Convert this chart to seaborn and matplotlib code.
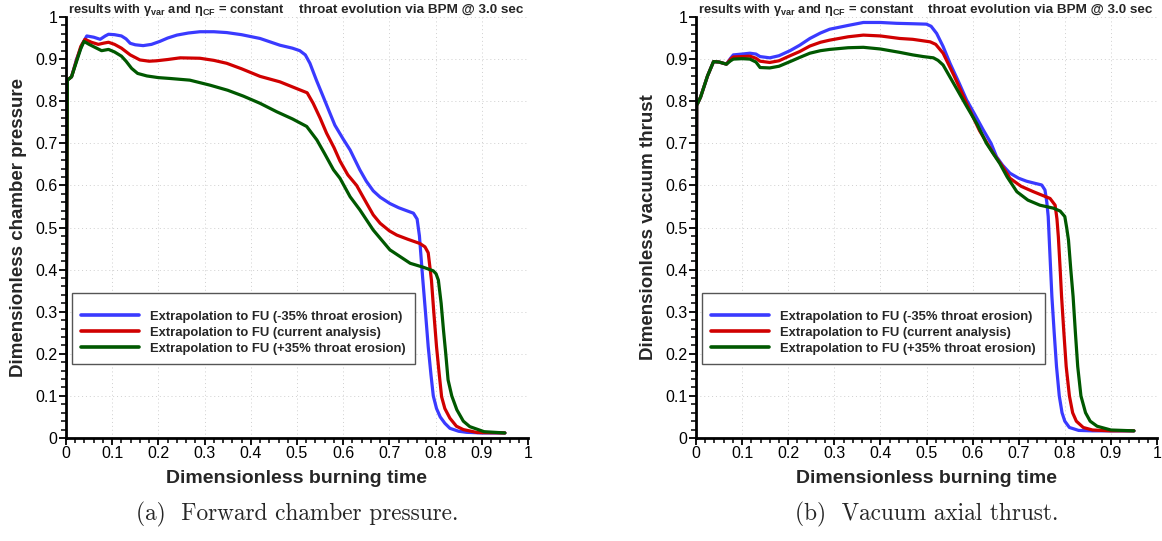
import numpy as np
import pandas as pd
import matplotlib
matplotlib.use("Agg")
import matplotlib.pyplot as plt
from matplotlib.ticker import MultipleLocator, FuncFormatter
import seaborn as sns

# ---------------- data ----------------
series_labels = ["Extrapolation to FU (-35% throat erosion)",
                 "Extrapolation to FU (current analysis)",
                 "Extrapolation to FU (+35% throat erosion)"]
series_colors = ["#3a3aff", "#d00000", "#005800"]

# Panel (a): forward chamber pressure
p_blue_t = [0, 0.003, 0.012, 0.023, 0.035, 0.045, 0.06, 0.074, 0.085, 0.092, 0.105, 0.12, 0.13, 0.139,
            0.15, 0.167, 0.185, 0.203, 0.22, 0.24, 0.265, 0.29, 0.32, 0.348, 0.38, 0.42, 0.463, 0.49,
            0.506, 0.518, 0.528, 0.542, 0.557, 0.57, 0.582, 0.6, 0.615, 0.636, 0.65, 0.665, 0.68, 0.701,
            0.72, 0.737, 0.752, 0.76, 0.765, 0.772, 0.778, 0.784, 0.79, 0.795, 0.802, 0.81, 0.82, 0.831,
            0.85, 0.867, 0.9, 0.95]
p_blue_v = [0.15, 0.85, 0.858, 0.9, 0.935, 0.955, 0.952, 0.947, 0.955, 0.959, 0.958, 0.955, 0.948, 0.9375,
            0.934, 0.932, 0.935, 0.942, 0.95, 0.957, 0.962, 0.965, 0.965, 0.963, 0.958, 0.949, 0.933, 0.926,
            0.92, 0.91, 0.89, 0.85, 0.81, 0.775, 0.743, 0.71, 0.684, 0.637, 0.61, 0.587, 0.572, 0.557,
            0.547, 0.54, 0.534, 0.52, 0.48, 0.38, 0.3, 0.217, 0.15, 0.1, 0.07, 0.05, 0.035, 0.023,
            0.016, 0.0135, 0.012, 0.012]

p_red_t = [0, 0.003, 0.012, 0.023, 0.032, 0.041, 0.055, 0.07, 0.082, 0.092, 0.105, 0.12, 0.139, 0.16,
           0.18, 0.196, 0.22, 0.247, 0.29, 0.32, 0.348, 0.38, 0.42, 0.463, 0.506, 0.522, 0.535, 0.55,
           0.564, 0.58, 0.593, 0.61, 0.629, 0.651, 0.665, 0.68, 0.7, 0.716, 0.74, 0.766, 0.777, 0.784,
           0.791, 0.796, 0.802, 0.808, 0.813, 0.82, 0.831, 0.845, 0.86, 0.89, 0.95]
p_red_v = [0.15, 0.85, 0.858, 0.898, 0.93, 0.947, 0.94, 0.935, 0.938, 0.94, 0.935, 0.926, 0.91, 0.898,
           0.895, 0.896, 0.899, 0.903, 0.902, 0.897, 0.89, 0.877, 0.859, 0.846, 0.827, 0.82, 0.795, 0.76,
           0.724, 0.69, 0.658, 0.625, 0.6, 0.557, 0.53, 0.51, 0.492, 0.482, 0.472, 0.462, 0.454, 0.44,
           0.375, 0.3, 0.217, 0.15, 0.098, 0.07, 0.047, 0.028, 0.02, 0.013, 0.012]

p_green_t = [0, 0.003, 0.012, 0.023, 0.032, 0.039, 0.05, 0.059, 0.077, 0.092, 0.105, 0.12, 0.13, 0.142,
             0.155, 0.175, 0.2, 0.225, 0.268, 0.312, 0.35, 0.384, 0.42, 0.456, 0.49, 0.521, 0.543, 0.56,
             0.579, 0.593, 0.615, 0.636, 0.665, 0.701, 0.745, 0.775, 0.795, 0.801, 0.806, 0.812, 0.817,
             0.822, 0.827, 0.835, 0.846, 0.86, 0.874, 0.905, 0.95]
p_green_v = [0.15, 0.85, 0.858, 0.895, 0.925, 0.942, 0.935, 0.93, 0.92, 0.923, 0.917, 0.907, 0.895, 0.878,
             0.866, 0.86, 0.856, 0.854, 0.85, 0.838, 0.826, 0.812, 0.795, 0.775, 0.758, 0.74, 0.708, 0.675,
             0.637, 0.617, 0.573, 0.542, 0.494, 0.447, 0.415, 0.405, 0.397, 0.39, 0.375, 0.32, 0.257,
             0.2, 0.138, 0.1, 0.067, 0.04, 0.027, 0.015, 0.012]

# Panel (b): vacuum axial thrust
t_blue_t = [0, 0.0015, 0.01, 0.025, 0.038, 0.05, 0.066, 0.075, 0.081, 0.1, 0.117, 0.13, 0.139, 0.16, 0.18,
            0.204, 0.225, 0.247, 0.27, 0.29, 0.33, 0.363, 0.4, 0.435, 0.47, 0.5, 0.51, 0.522, 0.536, 0.551,
            0.57, 0.587, 0.605, 0.623, 0.64, 0.652, 0.665, 0.681, 0.7, 0.717, 0.735, 0.75, 0.757, 0.761,
            0.764, 0.768, 0.772, 0.777, 0.782, 0.788, 0.794, 0.8, 0.81, 0.83, 0.86, 0.9, 0.95]
t_blue_v = [0.15, 0.79, 0.81, 0.86, 0.894, 0.893, 0.888, 0.902, 0.91, 0.912, 0.914, 0.912, 0.906, 0.903, 0.908,
            0.92, 0.933, 0.949, 0.962, 0.971, 0.98, 0.987, 0.987, 0.985, 0.984, 0.983, 0.978, 0.961, 0.93, 0.89,
            0.845, 0.803, 0.768, 0.732, 0.7, 0.668, 0.648, 0.629, 0.617, 0.61, 0.605, 0.601, 0.589, 0.56,
            0.526, 0.43, 0.336, 0.25, 0.17, 0.1, 0.06, 0.04, 0.025, 0.018, 0.017, 0.017, 0.017]

t_red_t = [0, 0.0015, 0.01, 0.025, 0.038, 0.05, 0.066, 0.075, 0.081, 0.1, 0.117, 0.13, 0.139, 0.16, 0.18,
           0.204, 0.225, 0.247, 0.27, 0.29, 0.33, 0.363, 0.4, 0.442, 0.47, 0.508, 0.52, 0.536, 0.56, 0.587,
           0.615, 0.645, 0.665, 0.681, 0.705, 0.732, 0.768, 0.779, 0.783, 0.786, 0.79, 0.793, 0.798, 0.803,
           0.81, 0.817, 0.825, 0.84, 0.86, 0.9, 0.95]
t_red_v = [0.15, 0.79, 0.81, 0.86, 0.894, 0.893, 0.888, 0.9, 0.905, 0.906, 0.907, 0.902, 0.895, 0.892, 0.896,
           0.908, 0.918, 0.931, 0.94, 0.945, 0.953, 0.957, 0.955, 0.949, 0.947, 0.941, 0.935, 0.914, 0.86, 0.795,
           0.73, 0.676, 0.645, 0.617, 0.598, 0.585, 0.569, 0.553, 0.52, 0.478, 0.4, 0.336, 0.25, 0.17,
           0.1, 0.06, 0.04, 0.025, 0.019, 0.017, 0.017]

t_green_t = [0, 0.0015, 0.01, 0.025, 0.038, 0.05, 0.066, 0.075, 0.081, 0.1, 0.117, 0.13, 0.139, 0.16, 0.18,
             0.204, 0.225, 0.247, 0.27, 0.29, 0.33, 0.363, 0.4, 0.442, 0.47, 0.493, 0.515, 0.525, 0.536, 0.56,
             0.587, 0.61, 0.63, 0.645, 0.659, 0.675, 0.696, 0.72, 0.746, 0.775, 0.79, 0.8, 0.804, 0.808,
             0.813, 0.818, 0.823, 0.828, 0.835, 0.845, 0.855, 0.87, 0.9, 0.95]
t_green_v = [0.15, 0.79, 0.81, 0.86, 0.894, 0.893, 0.888, 0.896, 0.9, 0.901, 0.9, 0.893, 0.88, 0.879, 0.883,
             0.894, 0.904, 0.914, 0.92, 0.923, 0.927, 0.928, 0.924, 0.916, 0.91, 0.906, 0.903, 0.897, 0.886, 0.84,
             0.788, 0.745, 0.7, 0.675, 0.652, 0.62, 0.585, 0.565, 0.553, 0.546, 0.539, 0.526, 0.5, 0.47,
             0.4, 0.336, 0.25, 0.17, 0.1, 0.06, 0.04, 0.028, 0.019, 0.017]

x_ticks = [0, 0.1, 0.2, 0.3, 0.4, 0.5, 0.6, 0.7, 0.8, 0.9, 1]
y_ticks = [0, 0.1, 0.2, 0.3, 0.4, 0.5, 0.6, 0.7, 0.8, 0.9, 1]

xlabel = "Dimensionless burning time"
ylabels = ["Dimensionless chamber pressure", "Dimensionless vacuum thrust"]
captions = ["(a)  Forward chamber pressure.", "(b)  Vacuum axial thrust."]
header_left = r"results with $\gamma_{\rm var}$ and $\eta_{\rm CF}$ = constant"
header_right = "throat evolution via BPM @ 3.0 sec"


def make_df(ts, vs):
    frames = []
    for lab, t, v in zip(series_labels, ts, vs):
        frames.append(pd.DataFrame({"t": t, "v": v, "series": lab}))
    return pd.concat(frames, ignore_index=True)


df_p = make_df([p_blue_t, p_red_t, p_green_t], [p_blue_v, p_red_v, p_green_v])
df_t = make_df([t_blue_t, t_red_t, t_green_t], [t_blue_v, t_red_v, t_green_v])

# ---------------- style ----------------
sns.set_style("ticks")
plt.rcParams["font.family"] = ["Liberation Sans", "DejaVu Sans"]
plt.rcParams["mathtext.fontset"] = "custom"
plt.rcParams["mathtext.rm"] = "Liberation Sans:bold"
plt.rcParams["mathtext.it"] = "Liberation Sans:bold"
plt.rcParams["mathtext.bf"] = "Liberation Sans:bold"
plt.rcParams["mathtext.default"] = "regular"

fig = plt.figure(figsize=(11.62, 5.41), dpi=100)
W, H = 1162, 541
axes_px = [(66, 17, 462, 421), (696, 17, 461, 421)]
palette = dict(zip(series_labels, series_colors))

for i, (df, (x0, y0, w, h)) in enumerate(zip([df_p, df_t], axes_px)):
    ax = fig.add_axes([x0 / W, (H - y0 - h) / H, w / W, h / H])
    sns.lineplot(data=df, x="t", y="v", hue="series", palette=palette, sort=False,
                 estimator=None, linewidth=2.3, ax=ax)
    ax.set_xlim(0, 1)
    ax.set_ylim(0, 1)
    ax.set_xticks(x_ticks)
    ax.set_yticks(y_ticks)
    fmt = FuncFormatter(lambda v, p: "%g" % v)
    ax.xaxis.set_major_formatter(fmt)
    ax.yaxis.set_major_formatter(fmt)
    ax.xaxis.set_minor_locator(MultipleLocator(0.02))
    ax.yaxis.set_minor_locator(MultipleLocator(0.02))
    ax.tick_params(which="major", direction="out", length=5, width=1.3, labelsize=11.5, pad=1,
                   colors="black")
    ax.tick_params(which="minor", direction="out", length=3.5, width=1.1, colors="black")
    for s in ["top", "right"]:
        ax.spines[s].set_visible(False)
    for s in ["left", "bottom"]:
        ax.spines[s].set_linewidth(2)
        ax.spines[s].set_color("black")
    ax.grid(True, which="major", linestyle=(0, (1, 3)), color="#cfcfcf", linewidth=0.7)
    ax.set_axisbelow(True)
    ax.set_xlabel(xlabel, fontsize=14, fontweight="bold", labelpad=6)
    ax.set_ylabel(ylabels[i], fontsize=13.5, fontweight="bold", labelpad=6)

    handles, labels = ax.get_legend_handles_labels()
    leg = ax.legend(handles, labels, loc="upper left", bbox_to_anchor=(0.012, 0.344),
                    frameon=True, fancybox=False, framealpha=1, edgecolor="#555555",
                    prop={"weight": "bold", "size": 9.4}, handlelength=4.45, handletextpad=0.82,
                    borderpad=0.72, labelspacing=0.3, borderaxespad=0,
                    title=" ", title_fontsize=3)
    leg.get_frame().set_linewidth(1.0)
    for lh in leg.get_lines():
        lh.set_linewidth(2.6)

    # header texts
    ax.text(0.004, 1.0 + 4.5 / h, header_left, transform=ax.transAxes, fontsize=9.3,
            fontweight="bold", ha="left", va="baseline")
    ax.text(0.99, 1.0 + 4.5 / h, header_right, transform=ax.transAxes, fontsize=9.7,
            fontweight="bold", ha="right", va="baseline")

    fig.text((x0 + w / 2) / W, 1 - 514 / H, captions[i], family="cmr10",
             fontsize=16.8, ha="center", va="center")

fig.savefig("out.png", dpi=100)
